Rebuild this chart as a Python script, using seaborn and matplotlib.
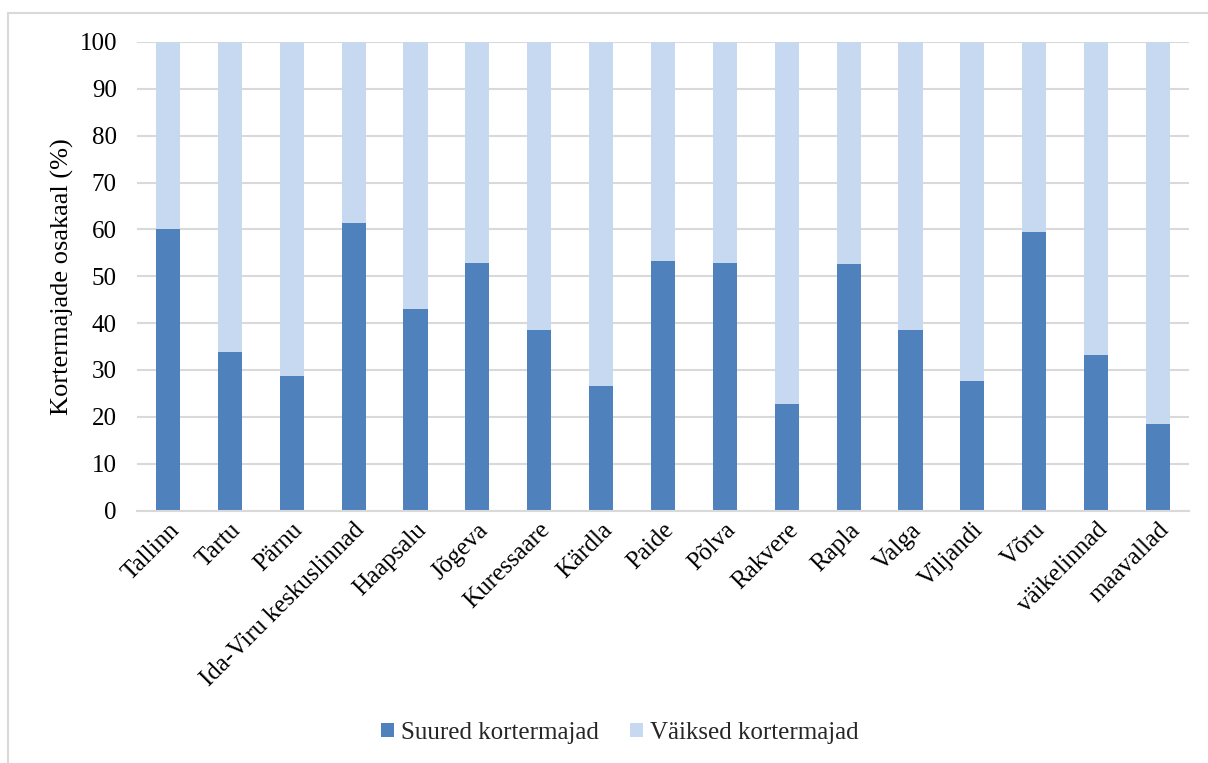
import matplotlib
matplotlib.use("Agg")
import matplotlib.pyplot as plt
import seaborn as sns
import pandas as pd
from matplotlib.lines import Line2D
from matplotlib.patches import Patch

categories = ["Tallinn", "Tartu", "Pärnu", "Ida-Viru keskuslinnad", "Haapsalu", "Jõgeva",
              "Kuressaare", "Kärdla", "Paide", "Põlva", "Rakvere", "Rapla", "Valga",
              "Viljandi", "Võru", "väikelinnad", "maavallad"]
suured = [60.1, 33.8, 28.7, 61.4, 43.0, 52.9, 38.5, 26.5, 53.3, 52.9, 22.8, 52.6, 38.5,
          27.6, 59.4, 33.1, 18.4]
vaiksed = [100 - v for v in suured]
series_names = ["Suured kortermajad", "Väiksed kortermajad"]
yticks = list(range(0, 101, 10))

dark = "#4F81BD"
light = "#C6D9F0"

sns.set_theme(style="white")
plt.rcParams["font.family"] = ["Liberation Serif", "DejaVu Serif"]

df = pd.DataFrame({"cat": categories, "suured": suured, "vaiksed": vaiksed})
df["total"] = df["suured"] + df["vaiksed"]

fig = plt.figure(figsize=(12.08, 7.63), dpi=100)
W, H = 1208, 763
ax = fig.add_axes([137 / W, 1 - 510.5 / H, (1189 - 137) / W, (510.5 - 42) / H])

sns.barplot(data=df, x="cat", y="total", color=light, width=0.39, ax=ax,
            saturation=1, linewidth=0)
sns.barplot(data=df, x="cat", y="suured", color=dark, width=0.39, ax=ax,
            saturation=1, linewidth=0)

FS = 18
ax.set_ylim(0, 100)
ax.set_xlim(-0.5, len(categories) - 0.5)
ax.set_yticks(yticks)
ax.set_yticklabels([str(t) for t in yticks], fontsize=FS)
ax.set_axisbelow(True)
ax.yaxis.grid(True, color="#D9D9D9", linewidth=1.5)
ax.xaxis.grid(False)
for s in ["top", "right", "left"]:
    ax.spines[s].set_visible(False)
ax.spines["bottom"].set_color("#D9D9D9")
ax.spines["bottom"].set_linewidth(1.5)
ax.tick_params(axis="y", length=0, pad=14.5, labelcolor="#000000")
ax.tick_params(axis="x", length=0, pad=6, labelcolor="#000000")
ax.set_xticks(range(len(categories)))
ax.set_xticklabels(categories, rotation=45, ha="right", rotation_mode="anchor", fontsize=FS)
ax.set_xlabel("")
ax.set_ylabel("Kortermajade osakaal (%)", fontsize=19, color="#000000")
ax.yaxis.set_label_coords(-0.060, 0.5)

handles = [Patch(facecolor=dark, edgecolor="none"), Patch(facecolor=light, edgecolor="none")]
fig.legend(handles, series_names, loc="center", bbox_to_anchor=(620 / W, 1 - 733 / H),
           ncol=2, frameon=False, fontsize=FS, handlelength=0.5, handleheight=0.5,
           handletextpad=0.3, columnspacing=1.25)

# chart area border
fig.add_artist(Line2D([8 / W, 1.0], [1 - 13 / H, 1 - 13 / H], transform=fig.transFigure,
                      color="#D9D9D9", linewidth=1.5))
fig.add_artist(Line2D([8 / W, 8 / W], [1 - 13 / H, 0.0], transform=fig.transFigure,
                      color="#D9D9D9", linewidth=1.5))

fig.savefig("out.png", dpi=100, facecolor="white")
